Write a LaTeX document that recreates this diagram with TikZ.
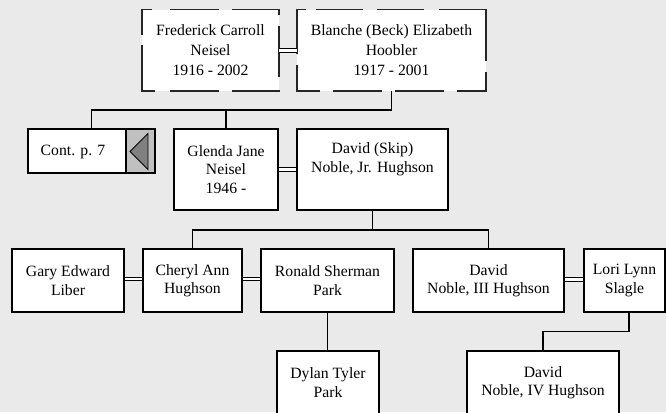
\documentclass[tikz,border=0pt]{standalone}
\usepackage{fontspec}
\setmainfont{Liberation Serif}
\definecolor{bg}{HTML}{EAEAEA}
\definecolor{contgray}{HTML}{C0C0C0}
\definecolor{tri}{HTML}{808080}
\begin{document}
\begin{tikzpicture}[x=1pt,y=-1pt,
  person/.style={draw=black, fill=white, line width=1.4pt, align=center, inner sep=0pt,
    font=\fontsize{15.7pt}{18.5pt}\selectfont},
  ancestor/.style={fill=white, align=center, inner sep=0pt,
    font=\fontsize{15.7pt}{20pt}\selectfont},
  dashedge/.style={draw=black!85, line width=1.4pt, line cap=rect},
  plain/.style={align=center, inner sep=0pt, font=\fontsize{15.7pt}{18.5pt}\selectfont},
  conn/.style={draw=black, line width=1.4pt},
  dbl/.style={draw=black, line width=1.2pt, double=white, double distance=2.4pt}]
\useasboundingbox (0,0) rectangle (666,412);
\fill[bg] (0,0) rectangle (666,412);

% ancestors
\node[ancestor, minimum width=137pt, minimum height=81.3pt] (fred) at (210.5,50.35)
  {Frederick Carroll\\Neisel\\1916 - 2002};
\node[ancestor, minimum width=189pt, minimum height=81.3pt] (blanche) at (391.5,50.35)
  {Blanche (Beck) Elizabeth\\Hoobler\\1917 - 2001};
% dashed outlines (per edge, as in the original)
\foreach \a/\b in {142/151,171/218,233/279} \draw[dashedge] (\a,9.7) -- (\b,9.7);
\foreach \a/\b in {142/154,171/218,233/279} \draw[dashedge] (\a,91) -- (\b,91);
\foreach \a/\b in {9.7/34,46/91} \draw[dashedge] (142,\a) -- (142,\b);
\foreach \a/\b in {9.7/14,27/76} \draw[dashedge] (279,\a) -- (279,\b);
\foreach \a/\b in {297/305,317/362,378/423,440/486} \draw[dashedge] (\a,9.7) -- (\b,9.7);
\foreach \a/\b in {297/319,334/381,396/443,458/486} \draw[dashedge] (\a,91) -- (\b,91);
\foreach \a/\b in {9.7/53,66/91} \draw[dashedge] (297,\a) -- (297,\b);
\foreach \a/\b in {9.7/60,73/91} \draw[dashedge] (486,\a) -- (486,\b);

% second row
\node[person, minimum width=127pt, minimum height=44pt] (cont) at (91.5,151) {};
\fill[contgray] (126,129) rectangle (155,173);
\draw[line width=1.4pt] (126,129) -- (126,173);
\draw[line width=1.4pt] (28,129) rectangle (155,173);
\draw[line width=2.6pt] (155,128.3) -- (155,173.7);
\draw[fill=tri, line width=0.8pt] (130,151.5) -- (148,133.5) -- (148,169.5) -- cycle;
\node[plain] (contlabel) at (73,151.5) {Cont. p. 7};

\node[person, minimum width=104pt, minimum height=81pt] (glenda) at (226,169.5)
  {Glenda Jane\\Neisel\\1946 -};
\node[person, minimum width=151pt, minimum height=81pt] (david) at (372.5,169.5)
  {David (Skip)\\Noble, Jr. Hughson\\\strut};

% third row
\node[person, minimum width=112pt, minimum height=63pt] (gary) at (68,280.5)
  {Gary Edward\\Liber};
\node[person, minimum width=99pt, minimum height=63pt] (cheryl) at (192.5,280.5)
  {Cheryl Ann\\Hughson};
\node[person, minimum width=133pt, minimum height=63pt] (ronald) at (327.5,280.5)
  {Ronald Sherman\\Park};
\node[person, minimum width=151pt, minimum height=63pt] (david3) at (488.5,280.5)
  {David\\Noble, III Hughson};
\node[person, minimum width=81pt, minimum height=63pt] (lori) at (624.5,280.5)
  {Lori Lynn\\Slagle};

% fourth row
\node[person, minimum width=102pt, minimum height=63pt] (dylan) at (328,382.5)
  {Dylan Tyler\\Park};
\node[person, minimum width=152pt, minimum height=63pt] (david4) at (543,382.5)
  {David\\Noble, IV Hughson};

% connectors
\draw[dbl] (fred.east) -- (blanche.west);
\coordinate (j1) at (blanche.south |- 0,110);
\draw[conn] (blanche.south) -- (j1);
\draw[conn] (cont.north) |- (j1);
\draw[conn] (glenda.north) -- (glenda.north |- j1);

\draw[dbl] (glenda.east) -- (david.west);
\coordinate (j2) at (david.south |- 0,230);
\draw[conn] (david.south) -- (j2);
\draw[conn] (cheryl.north) |- (david3.north |- j2) -- (david3.north);

\draw[dbl] ([yshift=1.5pt]gary.east) -- ([yshift=1.5pt]cheryl.west);
\draw[dbl] ([yshift=1.5pt]cheryl.east) -- ([yshift=1.5pt]ronald.west);
\draw[dbl] ([yshift=1pt]david3.east) -- ([yshift=1pt]lori.west);

\draw[conn] (ronald.south) -- (ronald.south |- dylan.north);
\coordinate (j3) at ([xshift=4.5pt]lori.south);
\draw[conn] (j3) -- ++(0,19) -| (david4.north);
\end{tikzpicture}
\end{document}
